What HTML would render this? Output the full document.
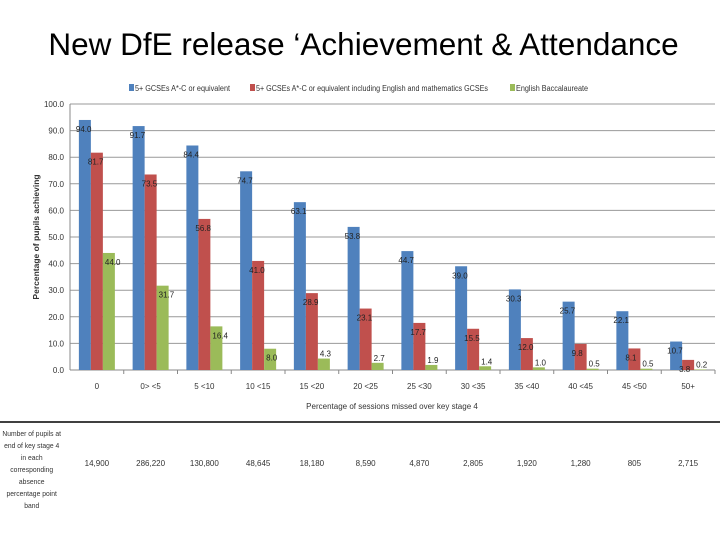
<!DOCTYPE html>
<html><head><meta charset="utf-8">
<style>
body{margin:0;width:720px;height:540px;background:#fff;overflow:hidden;font-family:"Liberation Sans",sans-serif;position:relative}
.title{position:absolute;left:0;width:727px;top:26px;text-align:center;font-size:31.5px;color:#000;white-space:nowrap}
.tbl{position:absolute;font-size:7.5px;color:#333}
</style></head><body>
<div class="title">New DfE release ‘Achievement &amp; Attendance</div>
<svg id="chart" width="720" height="540" style="position:absolute;left:0;top:0"></svg>
<div class="tbl" style="left:2px;top:428px;width:66px;line-height:12px;text-align:center;transform:scaleX(0.9);transform-origin:left top">Number of pupils at end of key stage 4 in each corresponding absence percentage point band</div>
<script>
const categories=["0","0> <5","5 <10","10 <15","15 <20","20 <25","25 <30","30 <35","35 <40","40 <45","45 <50","50+"];
const blue=[94.0,91.7,84.4,74.7,63.1,53.8,44.7,39.0,30.3,25.7,22.1,10.7];
const red=[81.7,73.5,56.8,41.0,28.9,23.1,17.7,15.5,12.0,9.8,8.1,3.8];
const green=[44.0,31.7,16.4,8.0,4.3,2.7,1.9,1.4,1.0,0.5,0.5,0.2];
const pupils=["14,900","286,220","130,800","48,645","18,180","8,590","4,870","2,805","1,920","1,280","805","2,715"];
const yTicks=[0,10,20,30,40,50,60,70,80,90,100];
const seriesNames=["5+ GCSEs A*-C or equivalent","5+ GCSEs A*-C or equivalent including English and mathematics GCSEs","English Baccalaureate"];
const colors=["#4f81bd","#c0504d","#9bbb59"];
const svg=document.getElementById('chart');
const NS="http://www.w3.org/2000/svg";
const x0=70,x1=715,y0=370,y100=104;
const bw=(x1-x0)/categories.length;
const yS=v=>y0-(v/100)*(y0-y100);
function mk(t,a){const e=document.createElementNS(NS,t);for(const k in a)e.setAttribute(k,a[k]);svg.appendChild(e);return e;}
yTicks.forEach(v=>{
 const g=mk('line',{x1:x0,x2:x1,y1:yS(v),y2:yS(v),stroke:v===0?'#888':'#999','stroke-width':1});
 
 
 const t=mk('text',{x:x0-6,y:yS(v)+3,'font-size':8,'text-anchor':'end',fill:'#333'});
 t.textContent=v.toFixed(1);
 
 
});
mk('line',{x1:x0,x2:x0,y1:y100,y2:y0,stroke:'#888'});
const series=[blue,red,green];
categories.forEach((c,i)=>{
 const cx=x0+bw*(i+0.5);
 mk('line',{x1:x0+bw*(i+1),x2:x0+bw*(i+1),y1:y0,y2:y0+4,stroke:'#888'});
 series.forEach((s,j)=>{
  const bx=cx-18+j*12;
  const r=mk('rect',{x:bx,y:yS(s[i]),width:12,height:y0-yS(s[i]),fill:colors[j]});
  
  
  const lb=mk('text',{x:bx+(j===2?2:-3),y:yS(s[i])+(j===2&&s[i]<5?-2:12),'font-size':8,fill:'#222'});
  lb.textContent=s[i].toFixed(1);
  
  
 });
 const t=mk('text',{x:cx,y:y0+19,'font-size':8,'text-anchor':'middle',fill:'#333'});
 t.textContent=c;
 
 
 const p=mk('text',{x:cx,y:466,'font-size':8,'text-anchor':'middle',fill:'#333'});
 p.textContent=pupils[i];
 
 
});
const lx=[135,256,516];
const lw=[95,232,72];
seriesNames.forEach((n,j)=>{
 const r=mk('rect',{x:lx[j]-6,y:84,width:5,height:7,fill:colors[j]});
 
 
 const t=mk('text',{x:lx[j],y:91,'font-size':8,fill:'#333',textLength:lw[j],lengthAdjust:'spacingAndGlyphs'});
 t.textContent=n;
 
 
});
const xt=mk('text',{x:392,y:409,'font-size':8,'text-anchor':'middle',fill:'#333'});
xt.textContent="Percentage of sessions missed over key stage 4";


const yt=mk('text',{x:0,y:0,'font-size':8.5,'font-weight':'bold','text-anchor':'middle',fill:'#333',transform:'translate(39,237) rotate(-90)'});
yt.textContent="Percentage of pupils achieving";


const hl=mk('line',{x1:0,x2:720,y1:422,y2:422,stroke:'#000','stroke-width':1.5});


</script>
</body></html>
